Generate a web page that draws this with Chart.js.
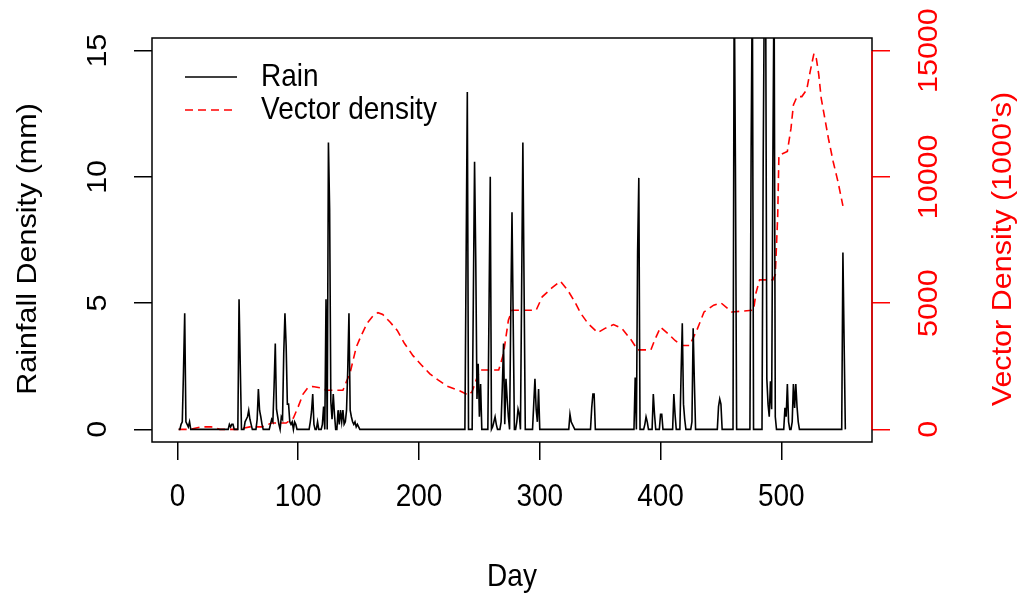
<!DOCTYPE html>
<html><head><meta charset="utf-8">
<script src="https://cdn.jsdelivr.net/npm/chart.js@4.4.1/dist/chart.umd.min.js"></script>
<style>html,body{margin:0;padding:0;background:#fff;}canvas{display:block;}</style>
</head><body>
<canvas id="c" width="1022" height="598"></canvas>
<script>
// Daily rainfall (mm): days with non-zero rain; all other days are 0
const rainDays = [3,4,5,6,7,8,9,10, 43,44,45,46, 51,52, 56,57,58,59,60,61, 66,67,68,69,70,
  77,78,79,80,81,82,83,84, 86,87,88,89,90,91,92,93,94,95,97,98,
  110,111,112,113,116, 120,121,123,125,126,127,128,129,130,
  133,134,135,136,137,138,139,140,141,142,143,144,145,146,147,148,149,150,
  239,240,245,246,247,248,249,250,251, 258,259,261,262,263,264,
  268,269,270,271,272,273,274,276,277,278, 281,282,283,285,286,287,
  295,296,297,298,299, 325,326,327,328, 343,344,345, 379,381,382,
  387,388,389, 394,395,400,401, 411,412, 417,418,419,420, 426,427,428,
  448,449,450, 461,462, 475,476, 485,486,487,488,489,490,491,492,493,494,495,
  503,504,505,506,509,510,511,512,513,514, 551,552];
const rainMm = [0.2,0.3,2.3,4.6,0.3,0.2,0.1,0.3, 0.2,0.1,0.2,0.2, 5.15,2.55, 0.3,0.4,0.5,0.75,0.4,0.2, 0.4,1.6,0.75,0.5,0.2,
  0.2,0.4,0.3,1.7,3.4,0.8,0.5,0.2, 0.5,0.4,3.0,4.6,3.3,1.0,1.0,0.3,0.2,0.3,0.3,0.2,
  0.3,0.7,1.4,0.2,0.3, 0.2,0.9,5.15,11.36,8.72,1.1,0.4,1.4,0.6,
  0.76,0.2,0.76,0.3,0.76,0.2,0.3,0.76,2.36,4.6,0.76,0.5,0.3,0.2,0.3,0.1,0.2,0.1,
  6.65,13.36,5.25,10.6,6.7,1.2,2.6,0.5,1.8, 4.9,10.0,0.1,0.3,0.5,0.2,
  0.3,1.72,3.4,0.2,2.0,1.2,0.5,4.7,8.6,4.25, 0.3,0.8,0.6,5.65,11.36,5.65,
  1.0,2.0,0.8,0.3,1.6, 0.6,0.3,0.2,0.1, 0.85,1.4,1.4, 2.05,7.0,9.96,
  0.2,0.5,0.3, 1.4,0.6,0.6,0.6, 1.4,0.6, 2.2,4.2,1.0,0.4, 0.3,4.0,1.9,
  0.9,1.2,1.0, 18,10.45, 11.05,18, 10.7,18,18,2.0,1.0,0.5,1.9,0.8,10.7,18,0.5,
  0.85,0.5,1.8,0.3,0.3,1.8,0.85,1.8,0.9,0.3, 7.0,3.45];
const firstDay = 1, lastDay = 553;

// Vector density (1000's)
const vecDays = [1,10,20,28,35,50,60,70,78,90, 96,100,104,108,112,118,123,137,140,143,
  148,152,157,162,166,170,176,182,188,195, 202,209,216,223,234,241,244,248,251,266,
  270,274,277,297,302,310,317,323,329,334, 340,348,354,361,368,376,381,392,395,400,
  406,412,418,424,430,436,444,450,459,477, 479,482,493,495,497,498,505,508,510,513,
  517,521,524,527,529,531,533,536,539,543, 547,551];
const vecVals = [0,0,100,100,0,0,100,100,250,250, 450,900,1400,1650,1700,1650,1550,1550,1900,2250,
  3250,3700,4200,4500,4620,4550,4250,3920,3400,2920, 2550,2200,1950,1720,1520,1350,1500,2050,2350,2350,
  3000,4320,4720,4720,5250,5600,5870,5520,5050,4590, 4190,3830,4000,4150,4000,3520,3150,3150,3520,4050,
  3800,3520,3320,3320,3920,4650,4920,5010,4650,4720, 5400,5920,5920,6120,8450,10850,11010,11920,12850,13180,
  13180,13450,14200,14880,14680,14050,13120,12320,11520,10590, 9790,8850];

const xTicks = [0,100,200,300,400,500];
const yTicks = [0,5,10,15];
const y2Ticks = [0,5000,10000,15000];
const xTitle = 'Day';
const yTitle = 'Rainfall Density (mm)';
const y2Title = "Vector Density (1000's)";
const legendLabels = ['Rain', 'Vector density'];

const rainPts = [];
for (let d = firstDay; d <= lastDay; d++) {
  const i = rainDays.indexOf(d);
  rainPts.push({x: d, y: i >= 0 ? rainMm[i] : 0});
}
const vecPts = vecDays.map((d, i) => ({x: d, y: vecVals[i]}));

const RED = '#FF0000';
const FONT = '28px "Liberation Sans", Arial, sans-serif';
const SY = 1.09;

const decor = {
  id: 'decor',
  afterDraw(chart) {
    const ctx = chart.ctx, a = chart.chartArea;
    const sx = chart.scales.x, sy = chart.scales.y, sy2 = chart.scales.y2;
    const txt = (s, x, y, rot, color, align, base) => {
      ctx.save(); ctx.translate(x, y); ctx.scale(1, SY);
      if (rot) ctx.rotate(-Math.PI / 2);
      ctx.fillStyle = color; ctx.textAlign = align; ctx.textBaseline = base; ctx.font = FONT;
      ctx.fillText(s, 0, 0); ctx.restore();
    };
    ctx.save();
    ctx.lineWidth = 1.5; ctx.strokeStyle = '#000';
    ctx.strokeRect(a.left, a.top, a.right - a.left, a.bottom - a.top);
    ctx.strokeStyle = RED;
    ctx.beginPath();
    ctx.moveTo(a.right, sy2.getPixelForValue(y2Ticks[0]));
    ctx.lineTo(a.right, sy2.getPixelForValue(y2Ticks[y2Ticks.length - 1]));
    ctx.stroke();
    ctx.restore();
    xTicks.forEach(v => txt(String(v), sx.getPixelForValue(v), 498, false, '#000', 'center', 'middle'));
    yTicks.forEach(v => txt(String(v), 98, sy.getPixelForValue(v), true, '#000', 'center', 'middle'));
    y2Ticks.forEach(v => txt(String(v), 929, sy2.getPixelForValue(v), true, RED, 'center', 'middle'));
    txt(xTitle, (a.left + a.right) / 2, 578, false, '#000', 'center', 'middle');
    txt(yTitle, 28, 249, true, '#000', 'center', 'middle');
    txt(y2Title, 1003, 249, true, RED, 'center', 'middle');
    // legend
    ctx.save();
    ctx.lineWidth = 1.5; ctx.strokeStyle = '#000';
    ctx.beginPath(); ctx.moveTo(185, 77); ctx.lineTo(237, 77); ctx.stroke();
    ctx.strokeStyle = RED; ctx.setLineDash([8, 5]);
    ctx.beginPath(); ctx.moveTo(185, 110); ctx.lineTo(237, 110); ctx.stroke();
    ctx.restore();
    txt(legendLabels[0], 261, 78, false, '#000', 'left', 'middle');
    txt(legendLabels[1], 261, 111, false, '#000', 'left', 'middle');
  }
};

const tickGrid = (color) => ({drawOnChartArea: false, drawTicks: true, tickLength: 18, color: color, lineWidth: 1.5});

new Chart(document.getElementById('c'), {
  type: 'line',
  data: {
    datasets: [
      {label: legendLabels[0], data: rainPts, borderColor: '#000', borderWidth: 1.6, pointRadius: 0, tension: 0, yAxisID: 'y', clip: 0},
      {label: legendLabels[1], data: vecPts, borderColor: RED, borderWidth: 1.6, borderDash: [8, 5], pointRadius: 0, tension: 0, yAxisID: 'y2', clip: 0}
    ]
  },
  options: {
    responsive: false, animation: false, events: [],
    layout: {padding: {top: 38, left: 0, right: 0, bottom: 0}},
    plugins: {legend: {display: false}, tooltip: {enabled: false}, title: {display: false}},
    scales: {
      x: {type: 'linear', position: 'bottom', min: -21.08, max: 575.08,
        afterBuildTicks: s => { s.ticks = xTicks.map(v => ({value: v})); },
        afterFit: s => { s.height = 156; },
        ticks: {display: false}, grid: tickGrid('#000'), border: {display: false}},
      y: {type: 'linear', position: 'left', min: -0.5, max: 15.5,
        afterBuildTicks: s => { s.ticks = yTicks.map(v => ({value: v})); },
        afterFit: s => { s.width = 152; },
        ticks: {display: false}, grid: tickGrid('#000'), border: {display: false}},
      y2: {type: 'linear', position: 'right', min: -500, max: 15500,
        afterBuildTicks: s => { s.ticks = y2Ticks.map(v => ({value: v})); },
        afterFit: s => { s.width = 150; },
        ticks: {display: false}, grid: tickGrid(RED), border: {display: false}}
    }
  },
  plugins: [decor]
});
</script>
</body></html>
